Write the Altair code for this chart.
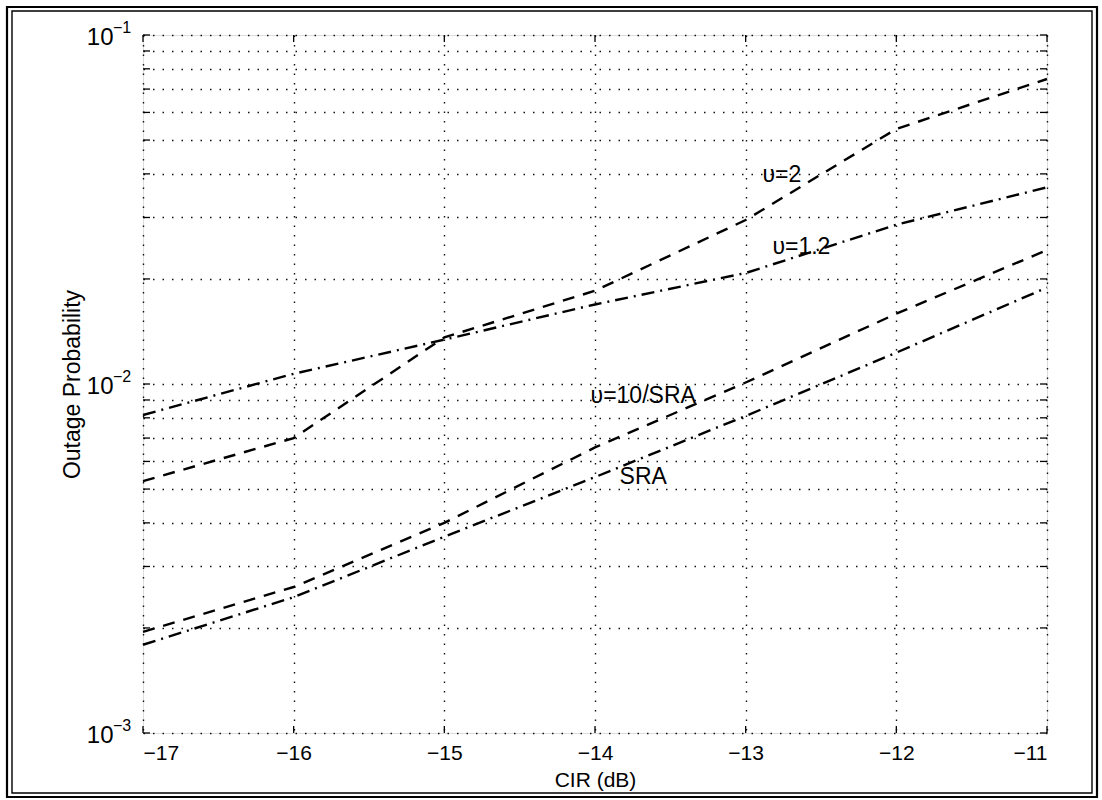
import altair as alt
import pandas as pd

# Carrier-to-interference ratio (dB) and outage probability per curve
cir = [-17, -16, -15, -14, -13, -12, -11]
p_nu2 = [0.00527, 0.0070, 0.0136, 0.0185, 0.0295, 0.0538, 0.0748]
p_nu12 = [0.00815, 0.0107, 0.0134, 0.0169, 0.0208, 0.0286, 0.0366]
p_nu10 = [0.00195, 0.00262, 0.0040, 0.00658, 0.0101, 0.0159, 0.0242]
p_sra = [0.00179, 0.00245, 0.00365, 0.00541, 0.0081, 0.0123, 0.0189]

series_names = ["nu2", "nu12", "nu10", "sra"]
series_styles = ["dash", "dashdot", "dash", "dashdot"]
series_values = [p_nu2, p_nu12, p_nu10, p_sra]

# Curve annotations
label_text = ["υ=2", "υ=1.2", "υ=10/SRA", "SRA"]
label_x = [-12.76, -12.63, -13.68, -13.68]
label_y = [0.0397, 0.0247, 0.00924, 0.00542]

# Axis ticks / grid
x_ticks = [-17, -16, -15, -14, -13, -12, -11]
y_ticks = [0.001, 0.002, 0.003, 0.004, 0.005, 0.006, 0.007, 0.008, 0.009,
           0.01, 0.02, 0.03, 0.04, 0.05, 0.06, 0.07, 0.08, 0.09, 0.1]
decades = [0.001, 0.01, 0.1]
decade_exp = ["−3", "−2", "−1"]

W, H = 904, 698
FONT = "Liberation Sans"

rows = []
for name, style, vals in zip(series_names, series_styles, series_values):
    for xv, yv in zip(cir, vals):
        rows.append({"series": name, "style": style, "cir": xv, "p": yv})
curves = pd.DataFrame(rows)

xscale = alt.Scale(domain=[-17, -11], nice=False, zero=False)
yscale = alt.Scale(type="log", domain=[0.001, 0.1], nice=False)

x_axis = alt.Axis(
    values=x_ticks, format="d", title="CIR (dB)", grid=True,
    gridDash=[1.5, 8], gridColor="#111", gridWidth=1.4,
    domain=False, ticks=False, labelPadding=9,
    labelFont=FONT, labelFontSize=21, labelColor="black",
    titleFont=FONT, titleFontSize=21, titleFontWeight="normal", titleColor="black",
    titleX=452, titleY=47, titleBaseline="middle",
)
y_axis = alt.Axis(
    values=y_ticks, title="Outage Probability", grid=True,
    gridDash=[1.5, 8], gridColor="#111", gridWidth=1.4,
    domain=False, ticks=False, labelPadding=30, labelOffset=2,
    labelExpr="abs(log(datum.value)/LN10 - round(log(datum.value)/LN10)) < 1e-6 ? '10' : ''",
    labelFont=FONT, labelFontSize=24, labelColor="black", labelBaseline="middle",
    titleFont=FONT, titleFontSize=23, titleFontWeight="normal", titleColor="black",
    titleX=-71, titleY=349, titleAngle=-90, titleAlign="center", titleBaseline="middle",
)

lines = alt.Chart(curves).mark_line(color="black", strokeWidth=2.4).encode(
    x=alt.X("cir:Q", scale=xscale, axis=x_axis),
    y=alt.Y("p:Q", scale=yscale, axis=y_axis),
    detail="series:N",
    strokeDash=alt.StrokeDash(
        "style:N",
        scale=alt.Scale(domain=["dash", "dashdot"], range=[[12, 9], [13, 6, 2, 6]]),
        legend=None,
    ),
)

labels_df = pd.DataFrame({"t": label_text, "x": label_x, "y": label_y})
labels = alt.Chart(labels_df).mark_text(
    font=FONT, fontSize=23, color="black", align="center", baseline="middle"
).encode(
    x=alt.X("x:Q", scale=xscale),
    y=alt.Y("y:Q", scale=yscale),
    text="t:N",
)

# Exponents of the decade labels on the y axis
exp_df = pd.DataFrame({"v": decades, "e": decade_exp})
exps = alt.Chart(exp_df).mark_text(
    font=FONT, fontSize=16, color="black", align="left", baseline="middle", dy=-7
).encode(
    x=alt.value(-30),
    y=alt.Y("v:Q", scale=yscale),
    text="e:N",
)

# Inward tick marks on all four sides of the box
yt_df = pd.DataFrame({"v": y_ticks})
xt_df = pd.DataFrame({"v": x_ticks})
tick_style = dict(color="black", strokeWidth=1.3)
ticks_left = alt.Chart(yt_df).mark_rule(**tick_style).encode(
    y=alt.Y("v:Q", scale=yscale), x=alt.value(0), x2=alt.value(7))
ticks_right = alt.Chart(yt_df).mark_rule(**tick_style).encode(
    y=alt.Y("v:Q", scale=yscale), x=alt.value(W - 7), x2=alt.value(W))
ticks_bottom = alt.Chart(xt_df).mark_rule(**tick_style).encode(
    x=alt.X("v:Q", scale=xscale), y=alt.value(H - 7), y2=alt.value(H))
ticks_top = alt.Chart(xt_df).mark_rule(**tick_style).encode(
    x=alt.X("v:Q", scale=xscale), y=alt.value(0), y2=alt.value(7))

# Double frame around the whole figure
frame_df = pd.DataFrame({"k": [0]})
frame_outer = alt.Chart(frame_df).mark_rect(
    fill=None, fillOpacity=0, stroke="black", strokeWidth=2.2
).encode(x=alt.value(-136), x2=alt.value(954), y=alt.value(-28), y2=alt.value(762))
frame_inner = alt.Chart(frame_df).mark_rect(
    fill=None, fillOpacity=0, stroke="black", strokeWidth=1.4
).encode(x=alt.value(-131), x2=alt.value(949), y=alt.value(-24), y2=alt.value(758))

chart = alt.layer(
    lines, labels, exps, ticks_left, ticks_right, ticks_bottom, ticks_top,
    frame_outer, frame_inner,
).properties(
    width=W, height=H,
    autosize=alt.AutoSizeParams(type="none"),
    padding={"left": 143, "top": 35, "right": 55, "bottom": 65},
).configure_view(
    stroke="black", strokeWidth=2
).configure(background="white")

chart.save("out.html", embed_options={"renderer": "svg", "actions": False})
